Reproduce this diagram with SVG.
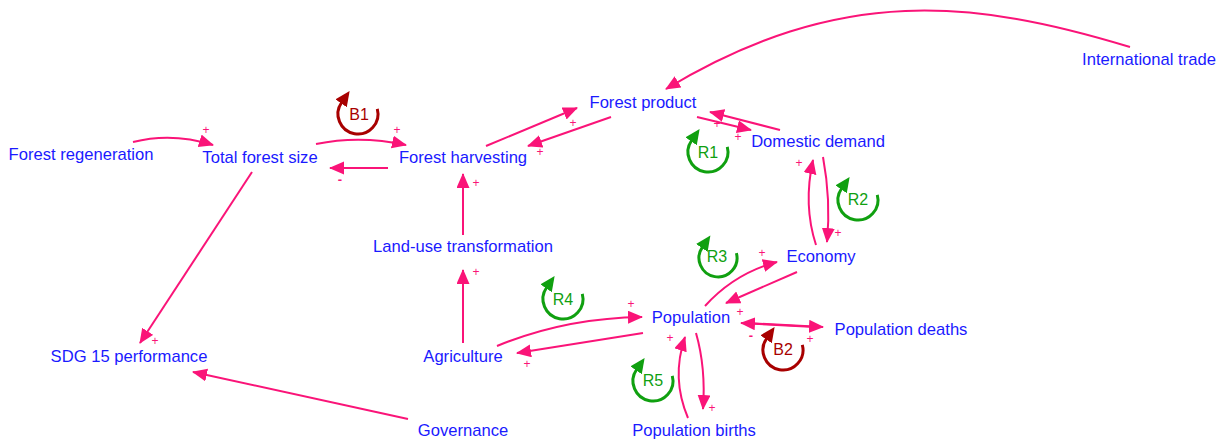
<svg xmlns="http://www.w3.org/2000/svg" width="1225" height="440" viewBox="0 0 1225 440">
  <style>
    .lbl { font-family: "Liberation Sans", Arial, sans-serif; font-size: 16.6px; fill: #1a1aff; text-anchor: middle; }
    .lnk { fill: none; stroke: #fa1478; stroke-width: 2; marker-end: url(#ah); }
    .pol { font-family: "Liberation Sans", Arial, sans-serif; font-size: 12px; fill: #fa1478; text-anchor: middle; dominant-baseline: central; }
    .neg { font-weight: bold; font-size: 13px; }
    .loopR { fill: none; stroke: #10a010; stroke-width: 3; marker-end: url(#ahR); }
    .loopB { fill: none; stroke: #a80000; stroke-width: 3; marker-end: url(#ahB); }
    .ltR { font-family: "Liberation Sans", Arial, sans-serif; font-size: 16px; fill: #10a010; text-anchor: middle; }
    .ltB { font-family: "Liberation Sans", Arial, sans-serif; font-size: 16px; fill: #a80000; text-anchor: middle; }
  </style>
  <defs>
    <marker id="ah" markerUnits="userSpaceOnUse" markerWidth="16" markerHeight="14" refX="14" refY="6.5" orient="auto">
      <path d="M0,0 L15,6.5 L0,13 z" fill="#fa1478"/>
    </marker>
    <marker id="ahR" markerUnits="userSpaceOnUse" markerWidth="16" markerHeight="16" refX="1" refY="7" orient="auto">
      <path d="M0,0 L15,7 L0,14 z" fill="#10a010"/>
    </marker>
    <marker id="ahB" markerUnits="userSpaceOnUse" markerWidth="16" markerHeight="16" refX="1" refY="7" orient="auto">
      <path d="M0,0 L15,7 L0,14 z" fill="#a80000"/>
    </marker>
  </defs>

  <rect width="1225" height="440" fill="#ffffff"/>

  <!-- causal links -->
  <g id="connectors">
    <path class="lnk" d="M133,142 Q172,132 213,145"/>
    <path class="lnk" d="M316,144 Q360,135 406,145"/>
    <path class="lnk" d="M388,168 L330,168"/>
    <path class="lnk" d="M486,146 L577,108"/>
    <path class="lnk" d="M611,117 L528,146"/>
    <path class="lnk" d="M697,117 L751,130"/>
    <path class="lnk" d="M780,130 L710,112"/>
    <path class="lnk" d="M1130,47 C975,0 840,-16 666,89"/>
    <path class="lnk" d="M823,157 Q831,200 827,242"/>
    <path class="lnk" d="M816,245 Q803,205 813,160"/>
    <path class="lnk" d="M705,306 Q735,273 777,262"/>
    <path class="lnk" d="M797,272 L726,303"/>
    <path class="lnk" d="M746,323 L823,327"/>
    <path class="lnk" d="M815,327 L741,323"/>
    <path class="lnk" d="M497,346 Q565,318 642,317"/>
    <path class="lnk" d="M643,333 L517,353"/>
    <path class="lnk" d="M696,333 Q706,368 703,409"/>
    <path class="lnk" d="M688,418 Q671,378 685,337"/>
    <path class="lnk" d="M463,343 L463,270"/>
    <path class="lnk" d="M463,235 L463,174"/>
    <path class="lnk" d="M252,172 L140,343"/>
    <path class="lnk" d="M408,419 L193,372"/>
  </g>

  <!-- link polarities -->
  <g id="polarities">
    <text class="pol" x="206" y="130">+</text>
    <text class="pol" x="397" y="130">+</text>
    <text class="pol neg" x="340" y="179">-</text>
    <text class="pol" x="573" y="123">+</text>
    <text class="pol" x="540" y="152">+</text>
    <text class="pol" x="738" y="137">+</text>
    <text class="pol" x="717" y="124">+</text>
    <text class="pol" x="838" y="233">+</text>
    <text class="pol" x="799" y="163">+</text>
    <text class="pol" x="762" y="253">+</text>
    <text class="pol" x="740" y="312">+</text>
    <text class="pol" x="810" y="339">+</text>
    <text class="pol neg" x="751" y="335">-</text>
    <text class="pol" x="631" y="304">+</text>
    <text class="pol" x="527" y="364">+</text>
    <text class="pol" x="712" y="408">+</text>
    <text class="pol" x="670" y="338">+</text>
    <text class="pol" x="476" y="272">+</text>
    <text class="pol" x="476" y="183">+</text>
    <text class="pol" x="155" y="341">+</text>
  </g>

  <!-- feedback loop markers -->
  <g id="loop-B1">
    <path class="loopB" d="M377.3,108.8 A20,20 0 1 1 341.6,102.5"/>
    <text class="ltB" x="359" y="120">B1</text>
  </g>
  <g id="loop-R1">
    <path class="loopR" d="M727.3,146.8 A20,20 0 1 1 691.6,140.5"/>
    <text class="ltR" x="708" y="158">R1</text>
  </g>
  <g id="loop-R2">
    <path class="loopR" d="M877.3,194.8 A20,20 0 1 1 841.6,188.5"/>
    <text class="ltR" x="858" y="205">R2</text>
  </g>
  <g id="loop-R3">
    <path class="loopR" d="M736.4,253.1 A19,19 0 1 1 702.4,247.1"/>
    <text class="ltR" x="717" y="262">R3</text>
  </g>
  <g id="loop-R4">
    <path class="loopR" d="M582.3,293.8 A20,20 0 1 1 546.6,287.5"/>
    <text class="ltR" x="563" y="305">R4</text>
  </g>
  <g id="loop-R5">
    <path class="loopR" d="M672.3,375.8 A20,20 0 1 1 636.6,369.5"/>
    <text class="ltR" x="653" y="386">R5</text>
  </g>
  <g id="loop-B2">
    <path class="loopB" d="M802.3,344.8 A20,20 0 1 1 766.6,338.5"/>
    <text class="ltB" x="783" y="355">B2</text>
  </g>

  <!-- variables -->
  <g id="forest-regeneration"><text class="lbl" x="81" y="160">Forest regeneration</text></g>
  <g id="total-forest-size"><text class="lbl" x="260" y="163">Total forest size</text></g>
  <g id="forest-harvesting"><text class="lbl" x="463" y="163">Forest harvesting</text></g>
  <g id="forest-product"><text class="lbl" x="643" y="108">Forest product</text></g>
  <g id="domestic-demand"><text class="lbl" x="818" y="147">Domestic demand</text></g>
  <g id="international-trade"><text class="lbl" x="1149" y="65">International trade</text></g>
  <g id="land-use-transformation"><text class="lbl" x="463" y="252">Land-use transformation</text></g>
  <g id="economy"><text class="lbl" x="821" y="262">Economy</text></g>
  <g id="population"><text class="lbl" x="691" y="323">Population</text></g>
  <g id="population-deaths"><text class="lbl" x="901" y="335">Population deaths</text></g>
  <g id="agriculture"><text class="lbl" x="463" y="362">Agriculture</text></g>
  <g id="sdg15-performance"><text class="lbl" x="129" y="362">SDG 15 performance</text></g>
  <g id="governance"><text class="lbl" x="463" y="436">Governance</text></g>
  <g id="population-births"><text class="lbl" x="694" y="436">Population births</text></g>
</svg>
